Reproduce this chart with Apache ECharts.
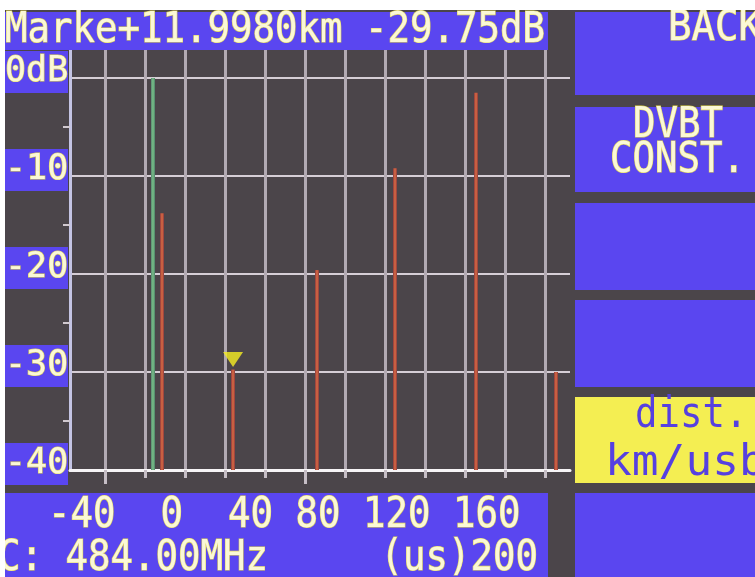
<!DOCTYPE html>
<html>
<head>
<meta charset="utf-8">
<script src="https://cdn.jsdelivr.net/npm/echarts@6/dist/echarts.min.js"></script>
<style>
  html, body { margin: 0; padding: 0; background: #ffffff; }
  #c { width: 755px; height: 577px; }
</style>
</head>
<body>
<div id="c"></div>
<script>
// Echo profile of a DVB-T channel: level (dB) against delay (µs)
const directDelays = [0];
const directLevels = [0];
const echoDelays = [4.5, 40, 82, 121, 161.5, 201.5];
const echoLevels = [-13.8, -29.75, -19.6, -9.2, -1.5, -30];

// Marker readout
const markerKm = 11.998;
const markerDb = -29.75;
const kmPerUs = 0.29979;

// Axis ticks
const yMin = -40;
const yTickValues = [-40, -30, -20, -10, 0];
const yMinorTicks = [-35, -25, -15, -5];
const xGridUs = [-24, -4, 16, 36, 56, 76, 96, 116, 136, 156, 176, 196];
const xMajorTicks = [-24, 76];
const xTickLabels = ['-40', '0', '40', '80', '120', '160'];
const xLabelCols = [5, 3, 4, 3, 4, 4];
const xUnit = '(us)';
const xEndLabel = '200';
const centreFreq = '484.00MHz';

// Soft keys on the right
const softKeys = [['BACK'], ['DVBT', 'CONST.'], [], [], ['dist.', 'km/usb'], []];

const BG = '#4b454a';
const BLUE = '#5a46f0';
const YELLOW = '#f4ee52';
const TXT = '#fbf8d6';
const TXT_EDGE = 'rgba(236,226,70,0.9)';
const MONO = '"DejaVu Sans Mono", "Liberation Mono", monospace';

const chart = echarts.init(document.getElementById('c'), null, { renderer: 'canvas' });

function stick(color, width) {
  return function (params, api) {
    const x = api.value(0);
    const top = api.coord([x, api.value(1)]);
    const base = api.coord([x, yMin]);
    return {
      type: 'rect',
      shape: { x: top[0] - width / 2, y: top[1], width: width, height: base[1] - top[1] },
      style: { fill: color }
    };
  };
}

const redFill = new echarts.graphic.LinearGradient(0, 0, 1, 0, [
  { offset: 0, color: '#8c3a3e' },
  { offset: 0.5, color: '#dc6c42' },
  { offset: 1, color: '#8c3a3e' }
]);
const greenFill = new echarts.graphic.LinearGradient(0, 0, 1, 0, [
  { offset: 0, color: '#5a8a72' },
  { offset: 0.5, color: '#78c088' },
  { offset: 1, color: '#4e8068' }
]);

const xLine1 = xTickLabels.map((t, i) => t.padStart(xLabelCols[i])).join('');
const xLine2 = ('C: ' + centreFreq).padEnd(17) + xUnit + xEndLabel;

// On-screen-display text: tall, narrow monospace
function osdText(text, x, y, fill, sx) {
  return {
    type: 'text',
    x: x, y: y,
    scaleX: sx || 0.89,
    style: {
      text: text, x: 0, y: 0,
      font: '42px ' + MONO,
      fill: fill || TXT,
      stroke: fill ? null : TXT_EDGE,
      lineWidth: fill ? 0 : 1.2,
      verticalAlign: 'middle',
      align: 'left'
    },
    z: 20
  };
}

const keyBoxes = [[12, 95], [107, 192], [203, 290], [300, 387], [397, 483], [493, 577]];
const keyTextPos = [
  [[668, 29, 0.93]],
  [[633, 126], [610, 161]],
  [],
  [],
  [[635, 416], [605, 464, 1.06]],
  []
];

const graphics = [
  { type: 'rect', shape: { x: 0, y: 0, width: 755, height: 10 }, style: { fill: '#ffffff' }, z: 30 },
  { type: 'rect', shape: { x: 0, y: 0, width: 5, height: 577 }, style: { fill: '#ffffff' }, z: 30 },
  { type: 'rect', shape: { x: 5, y: 12, width: 543, height: 38 }, style: { fill: BLUE }, z: 10 },
  { type: 'rect', shape: { x: 5, y: 493, width: 543, height: 84 }, style: { fill: BLUE }, z: 10 },
  osdText('Marke+' + markerKm.toFixed(4) + 'km ' + markerDb.toFixed(2) + 'dB', 5, 31),
  osdText(xLine1, 3, 516),
  osdText(xLine2, -2, 559)
];

softKeys.forEach(function (lines, i) {
  const box = keyBoxes[i];
  const active = i === 4;
  graphics.push({
    type: 'rect',
    shape: { x: 575, y: box[0], width: 180, height: box[1] - box[0] },
    style: { fill: active ? YELLOW : BLUE },
    z: 10
  });
  lines.forEach(function (t, j) {
    const p = keyTextPos[i][j];
    graphics.push(osdText(t, p[0], p[1], active ? '#5640e0' : null, p[2]));
  });
});

chart.setOption({
  backgroundColor: BG,
  animation: false,
  grid: { left: 70, top: 50, width: 500, height: 420, containLabel: false },
  xAxis: [
    {
      type: 'value', min: -41.5, max: 208.5, position: 'bottom', offset: 0,
      axisLine: { show: true, onZero: false, lineStyle: { color: '#f6f4f6', width: 3 } },
      axisTick: { show: true, customValues: xGridUs, length: 8, lineStyle: { color: '#c6bec6', width: 3 } },
      axisLabel: { show: false },
      splitLine: { show: true, lineStyle: { color: '#b2aab3', width: 3 } }
    },
    {
      type: 'value', min: -41.5, max: 208.5, position: 'bottom', offset: 0,
      axisLine: { show: false, onZero: false },
      axisTick: { show: true, customValues: xMajorTicks, length: 14, lineStyle: { color: '#c6bec6', width: 3 } },
      axisLabel: { show: false },
      splitLine: { show: false }
    }
  ],
  yAxis: [
    {
      type: 'value', min: yMin, max: 2.857, position: 'left', offset: 0,
      axisLine: { show: true, onZero: false, lineStyle: { color: '#c4c4e4', width: 3 } },
      axisTick: { show: false, customValues: yTickValues },
      splitLine: { show: true, lineStyle: { color: '#d6ced6', width: 2 } },
      axisLabel: {
        customValues: yTickValues,
        margin: 2,
        formatter: function (v) { return '{b|' + (v === 0 ? '0dB' : String(v)) + '}\n{s| }'; },
        rich: {
          b: {
            backgroundColor: BLUE, width: 63, align: 'left',
            padding: [5, 0, 5, 0], height: 32, lineHeight: 32,
            fontFamily: MONO, fontSize: 35, color: TXT,
            textBorderColor: TXT_EDGE, textBorderWidth: 1.2
          },
          s: { height: 12, lineHeight: 12, fontSize: 10 }
        }
      }
    },
    {
      type: 'value', min: yMin, max: 2.857, position: 'left', offset: 0,
      axisLine: { show: false, onZero: false },
      axisTick: { show: true, customValues: yMinorTicks, length: 7, lineStyle: { color: '#d0c8d0', width: 2 } },
      axisLabel: { show: false },
      splitLine: { show: false }
    }
  ],
  series: [
    {
      type: 'custom', name: 'direct', xAxisIndex: 0, yAxisIndex: 0,
      renderItem: stick(greenFill, 4),
      data: directDelays.map((d, i) => [d, directLevels[i]]),
      z: 5
    },
    {
      type: 'custom', name: 'echo', xAxisIndex: 0, yAxisIndex: 0,
      renderItem: stick(redFill, 4),
      data: echoDelays.map((d, i) => [d, echoLevels[i]]),
      z: 5
    },
    {
      type: 'scatter', name: 'marker', xAxisIndex: 0, yAxisIndex: 0,
      data: [[markerKm / kmPerUs, markerDb]],
      symbol: 'triangle', symbolRotate: 180, symbolSize: [20, 15], symbolOffset: [0, -10],
      itemStyle: { color: '#f6ee22' },
      z: 8
    }
  ],
  graphic: graphics
});
</script>
</body>
</html>
